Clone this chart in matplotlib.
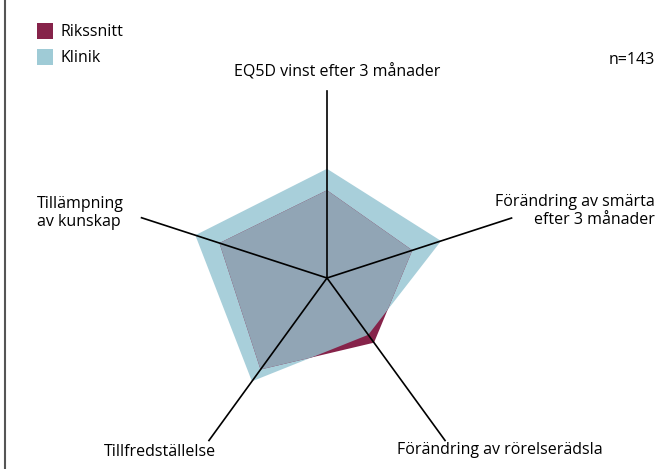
import numpy as np
import matplotlib.pyplot as plt
from matplotlib.patches import Polygon
from matplotlib.lines import Line2D

plt.rcParams['font.family'] = ['Open Sans', 'DejaVu Sans']

# axes (clockwise from top) and values
axes_names = ['EQ5D vinst efter 3 månader', 'Förändring av smärta\nefter 3 månader',
              'Förändring av rörelserädsla', 'Tillfredställelse',
              'Tillämpning\nav kunskap']
rikssnitt = [45, 46, 41, 58, 58]
klinik = [56, 61.5, 36, 65.5, 71]
axis_len = [96, 99.5, 103, 103, 100]
n_text = 'n=143'

W, H = 658, 469
cx, cy = 327, 278
k = 1.95  # px per unit

fig = plt.figure(figsize=(W / 100, H / 100), dpi=100)
ax = fig.add_axes([0, 0, 1, 1])
ax.set_xlim(-cx / k, (W - cx) / k)
ax.set_ylim(-(H - cy) / k, cy / k)
ax.axis('off')

ang = np.deg2rad(90 - 72 * np.arange(5))


def pts(vals):
    v = np.array(vals)
    return np.column_stack([v * np.cos(ang), v * np.sin(ang)])


kl = Polygon(pts(klinik), closed=True, fc='#a8cfda', ec='none', zorder=1)
ax.add_patch(kl)
ax.add_patch(Polygon(pts(rikssnitt), closed=True, fc='#86234a', ec='none', zorder=2))
over = Polygon(pts(rikssnitt), closed=True, fc='#91a5b5', ec='none', zorder=3)
ax.add_patch(over)
over.set_clip_path(kl)

for a, L in zip(ang, axis_len):
    ax.plot([0, L * np.cos(a)], [0, L * np.sin(a)], color='black', lw=1.2, zorder=4)

fs = 11.5
fig.text(337 / W, 1 - 72 / H, axes_names[0], ha='center', va='center', fontsize=fs)
fig.text(655 / W, 1 - 211 / H, axes_names[1], ha='right', va='center', fontsize=fs,
         linespacing=1.15, multialignment='right')
fig.text(500 / W, 1 - 450 / H, axes_names[2], ha='center', va='center', fontsize=fs)
fig.text(160 / W, 1 - 452 / H, axes_names[3], ha='center', va='center', fontsize=fs)
fig.text(37 / W, 1 - 213 / H, axes_names[4], ha='left', va='center', fontsize=fs,
         linespacing=1.15)
fig.text(655 / W, 1 - 60 / H, n_text, ha='right', va='center', fontsize=fs)

# legend
for i, (lab, col) in enumerate([('Rikssnitt', '#86234a'), ('Klinik', '#9fcbd6')]):
    y0 = 23 + 26 * i
    fig.patches.append(plt.Rectangle((37 / W, 1 - (y0 + 16) / H), 16 / W, 16 / H,
                                     transform=fig.transFigure, fc=col, ec='none'))
    fig.text(60 / W, 1 - (y0 + 8.5) / H, lab, ha='left', va='center', fontsize=fs)

fig.add_artist(Line2D([5 / W, 5 / W], [0, 1], color='#555555', lw=1.5))

fig.savefig('out.png', dpi=100)
